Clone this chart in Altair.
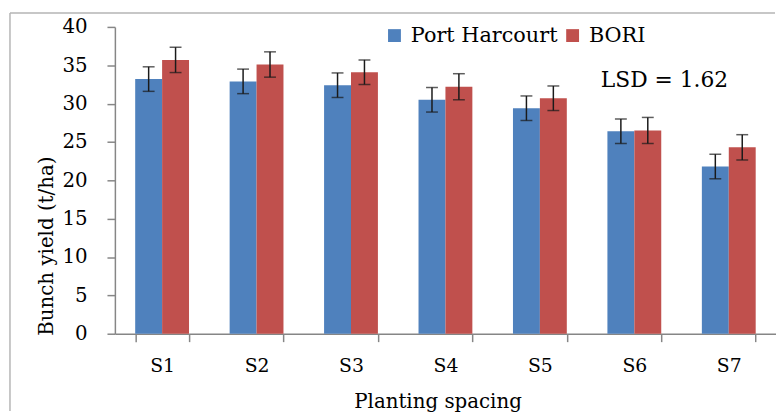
import altair as alt
import pandas as pd

spacings = ["S1", "S2", "S3", "S4", "S5", "S6", "S7"]
sites = ["Port Harcourt", "BORI"]
port_harcourt = [33.2, 32.9, 32.4, 30.5, 29.4, 26.4, 21.8]
bori = [35.7, 35.1, 34.1, 32.2, 30.7, 26.5, 24.3]
port_harcourt_err = [1.6, 1.6, 1.6, 1.6, 1.6, 1.6, 1.6]
bori_err = [1.65, 1.65, 1.6, 1.7, 1.6, 1.7, 1.65]
colors = ["#4F81BD", "#C0504D"]
lsd_label = "LSD = 1.62"
y_ticks = [0, 5, 10, 15, 20, 25, 30, 35, 40]

rows = []
for i, s in enumerate(spacings):
    rows.append({"spacing": s, "site": sites[0], "value": port_harcourt[i],
                 "lo": port_harcourt[i] - port_harcourt_err[i], "hi": port_harcourt[i] + port_harcourt_err[i]})
    rows.append({"spacing": s, "site": sites[1], "value": bori[i],
                 "lo": bori[i] - bori_err[i], "hi": bori[i] + bori_err[i]})
df = pd.DataFrame(rows)

FONT = "DejaVu Serif"
AXC = "#868686"

xaxis = alt.Axis(title="Planting spacing", tickBand="extent", labelAngle=0, tickSize=8,
                 labelPadding=15, labelFontSize=19, titleFontSize=20,
                 titleX=326, titleY=75, titleBaseline="alphabetic", titleAlign="center")
yaxis = alt.Axis(title="Bunch yield (t/ha)", values=y_ticks, tickSize=8, labelPadding=20,
                 labelFontSize=20, titleFontSize=20, titleAngle=270, titleX=-63, titleY=221,
                 titleAlign="center", titleBaseline="alphabetic")
yscale = alt.Scale(domain=[0, 40])

base = alt.Chart(df).encode(
    x=alt.X("spacing:N", sort=spacings, axis=xaxis,
            scale=alt.Scale(paddingInner=0.43, paddingOuter=0.215)),
    xOffset=alt.XOffset("site:N", sort=sites, scale=alt.Scale(paddingInner=0, paddingOuter=0)),
)

bars = base.mark_bar().encode(
    y=alt.Y("value:Q", scale=yscale, axis=yaxis),
    color=alt.Color("site:N", sort=sites, scale=alt.Scale(domain=sites, range=colors),
                    legend=alt.Legend(title=None, orient="none", legendX=272, legendY=-2,
                                      direction="horizontal", symbolType="square",
                                      symbolSize=169, symbolStrokeWidth=0,
                                      labelFont=FONT, labelFontSize=21, labelOffset=6,
                                      columnPadding=4, padding=0, labelLimit=300,
                                      labelColor="black")),
)

ecol = "#1a1a1a"
rules = base.mark_rule(color=ecol, strokeWidth=1.5).encode(
    y=alt.Y("lo:Q", scale=yscale, axis=yaxis), y2="hi:Q")
cap_lo = base.mark_tick(color=ecol, size=12, thickness=1.5).encode(
    y=alt.Y("lo:Q", scale=yscale, axis=yaxis))
cap_hi = base.mark_tick(color=ecol, size=12, thickness=1.5).encode(
    y=alt.Y("hi:Q", scale=yscale, axis=yaxis))

lsd = alt.Chart(pd.DataFrame({"t": [lsd_label]})).mark_text(
    align="left", baseline="alphabetic", font=FONT, fontSize=22, color="black"
).encode(x=alt.value(491), y=alt.value(61), text="t:N")

frame_data = pd.DataFrame({"a": [0]})
border_left = alt.Chart(frame_data).mark_rule(color="#b5b5b5", strokeWidth=1.5).encode(
    x=alt.value(-106), y=alt.value(-14), y2=alt.value(388))
border_top = alt.Chart(frame_data).mark_rule(color="#b5b5b5", strokeWidth=1.5).encode(
    x=alt.value(-106), x2=alt.value(667), y=alt.value(-14))

chart = alt.layer(border_left, border_top, bars, rules, cap_lo, cap_hi, lsd).properties(
    width=668, height=310,
    autosize=alt.AutoSizeParams(type="none"),
    padding={"left": 108, "top": 17, "right": 0, "bottom": 79},
).configure_view(stroke=None).configure_axis(
    grid=False, domainColor=AXC, tickColor=AXC, labelFont=FONT, titleFont=FONT,
    labelColor="black", titleColor="black", titleFontWeight="normal", domainWidth=1.5, tickWidth=1.5
)

chart.save("out.html", embed_options={"renderer": "svg", "actions": False})
